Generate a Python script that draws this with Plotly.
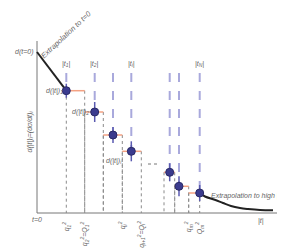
import plotly.graph_objects as go

# ---- data (units: |t| along x, d along y) ----
t_points = [29.3, 57.7, 76.0, 94.3, 132.7, 142.0, 162.7]
d_points = [122.3, 101.0, 78.0, 61.7, 40.7, 26.7, 20.0]
d_err = [7, 10, 8, 10, 9, 10, 8]
bin_lo = [29.3, 47.7, 66.3, 85.3, 127.0, 137.7, 151.7]
bin_hi = [47.7, 66.3, 85.3, 104.3, 137.7, 151.7, 162.7]
d_zero = 161.0
t_line_top = 140.0
curve_t = [162.7, 168, 177.7, 186, 194, 203, 211, 223, 236]
curve_d = [20, 16.5, 13.3, 10, 7, 5, 4, 3, 2.7]
dots_t = [111, 123]
dots_d = [49, 49]
axis_t_max = 243
axis_d_max = 172

top_labels = ["|t<sub>1</sub>|", "|t<sub>2</sub>|", "|t<sub>i</sub>|", "|t<sub>N</sub>|"]
top_label_idx = [0, 1, 3, 6]
x_labels = ["q<sub>1</sub><sup>2</sup>", "q<sub>2</sub><sup>2</sup>=Q<sub>1</sub><sup>2</sup>",
            "q<sub>i</sub><sup>2</sup>", "q<sub>i+1</sub><sup>2</sup>=Q<sub>i</sub><sup>2</sup>",
            "q<sub>m</sub><sup>2</sup>", "Q<sub>m</sub><sup>2</sup>"]
x_label_pos = [29.3, 47.7, 85.3, 104.3, 151.7, 162.7]

FONT = "Liberation Sans Narrow, Liberation Sans, Arial, sans-serif"
GRAY = "#666666"

fig = go.Figure()

# axes
fig.add_trace(go.Scatter(x=[0, 0, axis_t_max], y=[axis_d_max, 0, 0], mode="lines",
                         line=dict(color="#777777", width=1), hoverinfo="skip"))

# gray dashed bin edges
ex, ey = [], []
for lo, hi, d in zip(bin_lo, bin_hi, d_points):
    ex += [lo, lo, None, hi, hi, None]
    ey += [d, 0, None, d, 0, None]
fig.add_trace(go.Scatter(x=ex, y=ey, mode="lines",
                         line=dict(color="#8a8a8a", width=1, dash="dot"), hoverinfo="skip"))

# lavender dashed |t| lines
lx, ly = [], []
for t, d in zip(t_points, d_points):
    lx += [t, t, None]
    ly += [t_line_top, d, None]
fig.add_trace(go.Scatter(x=lx, y=ly, mode="lines",
                         line=dict(color="#a9a9dc", width=2, dash="dash"), hoverinfo="skip"))

# orange bin bars
bx, by = [], []
for lo, hi, d in zip(bin_lo, bin_hi, d_points):
    bx += [lo, hi, None]
    by += [d, d, None]
fig.add_trace(go.Scatter(x=bx, y=by, mode="lines",
                         line=dict(color="#f4a283", width=1.5), hoverinfo="skip"))

# extrapolation to t=0
fig.add_trace(go.Scatter(x=[0, t_points[0]], y=[d_zero, d_points[0]], mode="lines",
                         line=dict(color="#222222", width=2), hoverinfo="skip"))
# extrapolation to high |t|
fig.add_trace(go.Scatter(x=curve_t, y=curve_d, mode="lines", line_shape="spline",
                         line=dict(color="#222222", width=2), hoverinfo="skip"))
# dotted ellipsis
fig.add_trace(go.Scatter(x=dots_t, y=dots_d, mode="lines",
                         line=dict(color="#777777", width=1, dash="dot"), hoverinfo="skip"))

# points with error bars
fig.add_trace(go.Scatter(x=t_points, y=d_points, mode="markers",
                         marker=dict(size=8, color="#3b3b8e", line=dict(color="#2a2a66", width=1)),
                         error_y=dict(type="data", array=d_err, color="#5a5ab0", thickness=1.5, width=0),
                         hoverinfo="skip"))

ann = []
def A(text, x, y, size=7, **kw):
    d = dict(text="<i>" + text + "</i>", x=x, y=y, xref="x", yref="y", showarrow=False,
             borderpad=0, font=dict(family=FONT, size=size, color=GRAY))
    d.update(kw)
    ann.append(d)

A("d(t=0)", -3, d_zero, xanchor="right")
A("Extrapolation to t=0", 29, 179, size=7.5, textangle=-43)
for lab, i in zip(top_labels, top_label_idx):
    A(lab, t_points[i], 149)
A("d(|t|)<sub>1</sub>", 27, d_points[0], xanchor="right")
A("d(|t|)<sub>2</sub>", 53, d_points[1], xanchor="right")
A("d(|t|)<sub>i</sub>", 86, 52, xanchor="right")
A("Extrapolation to high |t|", 173, 17, size=7, xanchor="left")
A("|t|", 224, -8)
A("t=0", 0, -6)
A("d(|t|)<sub>i</sub>=(dσ/dt)<sub>i</sub>", -7.5, 81, textangle=-90)
for lab, x in zip(x_labels, x_label_pos):
    A(lab, x, -7, textangle=-90, yanchor="top")

fig.update_layout(
    width=285, height=250, margin=dict(l=0, r=0, t=0, b=0),
    paper_bgcolor="white", plot_bgcolor="white", showlegend=False,
    annotations=ann,
    xaxis=dict(range=[-29, 256], visible=False),
    yaxis=dict(range=[-45, 205], visible=False),
)
fig.write_html("out.html")
